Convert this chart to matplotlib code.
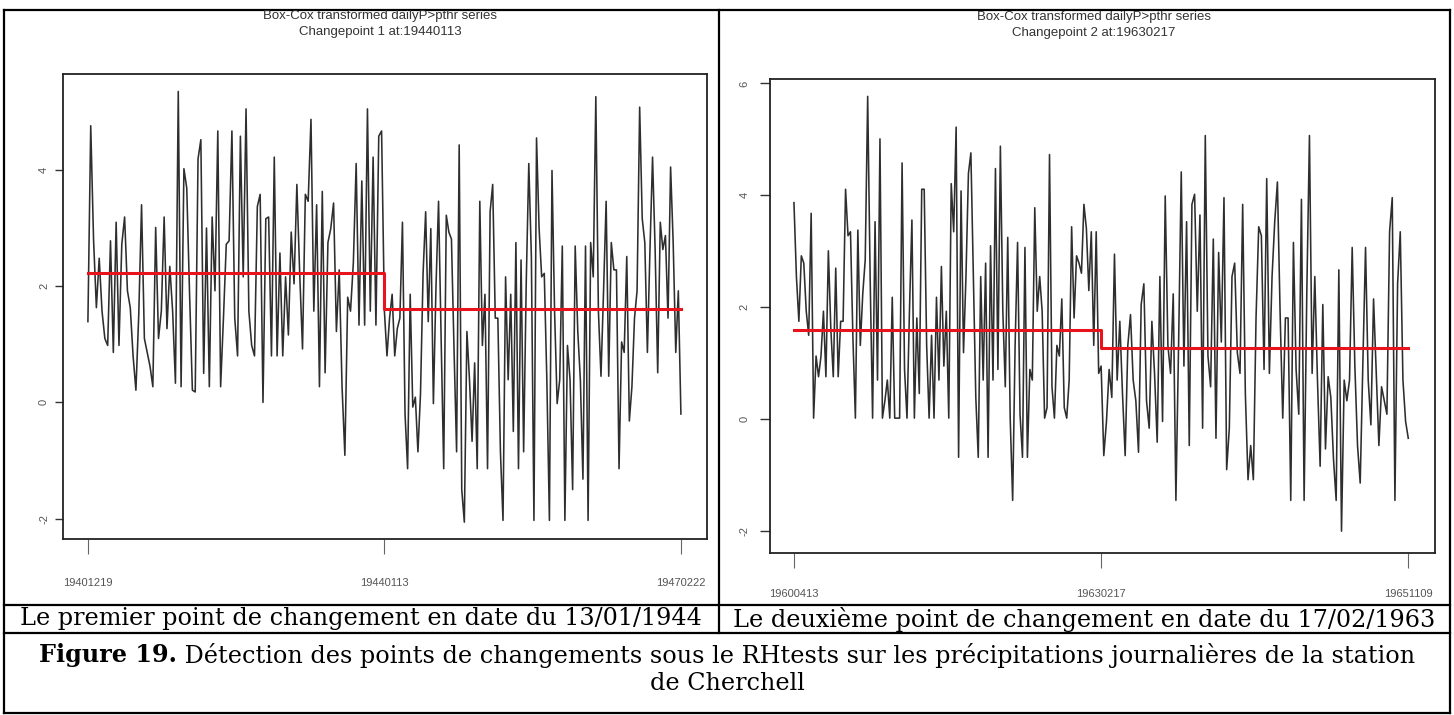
import numpy as np
import matplotlib.pyplot as plt
from matplotlib.lines import Line2D

plt.rcParams['font.family'] = ['Liberation Sans', 'DejaVu Sans']
plt.rcParams['axes.unicode_minus'] = False

# Box-Cox transformed daily precipitation
# left panel (changepoint 1)
left_before = [1.39, 4.76, 2.80, 1.63, 2.48, 1.57, 1.10, 0.98, 2.78, 0.86, 3.10, 0.98, 2.72, 3.19,
               1.92, 1.63, 0.80, 0.21, 1.50, 3.40, 1.10, 0.86, 0.62, 0.27, 3.01, 1.10, 1.57, 3.19,
               1.27, 2.34, 1.57, 0.33, 5.35, 0.27, 4.02, 3.69, 1.87, 0.21, 0.18, 4.19, 4.52, 0.50,
               3.00, 0.27, 3.19, 1.92, 4.67, 0.27, 1.45, 2.72, 2.78, 4.67, 1.45, 0.80, 4.58, 2.16,
               5.05, 1.57, 0.98, 0.80, 3.37, 3.58, 0.00, 3.16, 3.19, 0.80, 4.22, 0.80, 2.57, 0.80,
               2.16, 1.16, 2.93, 2.04, 3.75, 2.22, 0.92, 3.58, 3.46, 4.87, 1.57, 3.40, 0.27, 3.63,
               0.51, 2.75, 2.99, 3.43, 1.22, 2.28, 0.27, -0.91, 1.81, 1.57, 2.40, 4.11, 1.33, 3.81,
               1.33, 5.05, 1.57, 4.22, 1.33, 4.58, 4.67, 1.57]
left_after = [0.80, 1.45, 1.86, 0.80, 1.27, 1.45, 3.10, -0.20, -1.14, 1.86, -0.08, 0.09, -0.85,
              0.15, 2.22, 3.28, 1.39, 2.99, -0.02, 1.98, 3.46, 1.10, -1.14, 3.22, 2.93, 2.81, 0.92,
              -0.85, 4.43, -1.50, -2.06, 1.22, 0.39, -0.67, 0.68, -1.14, 3.46, 0.98, 1.86, -1.14,
              3.28, 3.75, 1.45, 1.45, -0.85, -2.03, 2.16, 0.39, 1.86, -0.50, 2.75, -1.14, 2.45,
              -0.85, 2.04, 4.11, 2.51, -2.03, 4.55, 2.99, 2.16, 2.22, 0.39, -2.03, 3.99, 1.57,
              -0.02, 0.39, 2.69, -2.03, 0.98, 0.39, -1.50, 2.69, 1.22, 0.39, -1.32, 2.69, -2.03,
              2.75, 2.16, 5.26, 1.57, 0.45, 1.92, 3.46, 0.45, 2.75, 2.28, 2.28, -1.14, 1.04, 0.86,
              2.51, -0.32, 0.27, 1.45, 1.92, 5.08, 3.16, 2.75, 0.86, 2.63, 4.22, 2.63, 0.51, 3.10,
              2.63, 2.87, 1.45, 4.05, 2.75, 0.86, 1.92, -0.20]
left_means = [2.22, 1.61]
left_dates = ['19401219', '19440113', '19470222']

# right panel (changepoint 2)
right_before = [3.87, 2.55, 1.75, 2.92, 2.79, 1.93, 1.50, 3.68, 0.02, 1.13, 0.76, 1.13, 1.93, 0.76,
                3.01, 1.62, 0.76, 2.70, 0.76, 1.75, 1.75, 4.11, 3.28, 3.35, 1.44, 0.02, 3.38, 1.32,
                2.24, 2.85, 5.77, 2.55, 0.02, 3.53, 0.70, 5.01, 0.02, 0.33, 0.70, 0.02, 2.18, 0.02,
                0.02, 0.02, 4.58, 0.89, 0.02, 1.93, 3.56, 0.02, 1.81, 0.46, 4.11, 4.11, 1.32, 0.02,
                1.50, 0.02, 2.18, 0.70, 2.73, 0.95, 1.93, 0.02, 4.21, 3.35, 5.22, -0.68, 4.08, 1.19,
                2.55, 4.39, 4.76, 2.55, 0.39, -0.68, 2.55, 0.70, 2.79, -0.68, 3.10, 0.70, 4.48,
                0.89, 4.88, 1.93, 0.58, 3.25, 0.02, -1.45, 1.32, 3.16, 0.09, -0.68, 3.07, -0.68,
                0.89, 0.70, 3.78, 1.93, 2.55, 1.93, 0.02, 0.21, 4.73, 0.58, 0.02, 1.32, 1.13, 2.15,
                0.21, 0.02, 0.70, 3.44, 1.81, 2.92, 2.79, 2.61, 3.84, 3.41, 2.30, 3.35, 1.32, 3.35,
                0.82, 0.95]
right_after = [-0.65, -0.04, 0.89, 0.39, 2.95, 0.70, 1.75, 0.46, -0.65, 1.32, 1.87, 0.70, 0.33,
               -0.59, 2.05, 2.42, 0.33, -0.16, 1.75, 0.82, -0.41, 2.55, -0.04, 3.99, 1.32, 0.82,
               2.24, -1.45, 1.32, 4.42, 0.95, 3.53, -0.47, 3.84, 4.02, 1.93, 3.65, -0.16, 5.07,
               1.13, 0.58, 3.22, -0.34, 2.98, 1.38, 3.96, -0.90, -0.16, 2.55, 2.79, 1.19, 0.82,
               3.84, 0.46, -1.08, -0.47, -1.08, 1.81, 3.44, 3.28, 0.89, 4.30, 0.82, 2.55, 3.53,
               4.24, 1.93, 0.02, 1.81, 1.81, -1.45, 3.16, 0.89, 0.09, 3.93, -1.45, 2.24, 5.07,
               0.82, 2.55, 0.70, -0.84, 2.05, -0.53, 0.76, 0.39, -0.71, -1.45, 2.67, -2.00, 0.70,
               0.33, 0.70, 3.07, 0.95, -0.47, -1.14, 1.01, 3.07, 0.70, -0.10, 2.15, 0.82, -0.47,
               0.58, 0.33, 0.09, 3.35, 3.96, -1.45, 2.42, 3.35, 0.70, -0.04, -0.34]
right_means = [1.59, 1.27]
right_dates = ['19600413', '19630217', '19651109']

W, H = 1454, 715
fig = plt.figure(figsize=(W / 100, H / 100), dpi=100)


def rect(x0, y0, x1, y1):
    # pixel box (top-left origin) -> figure fraction
    return [x0 / W, 1 - y1 / H, (x1 - x0) / W, (y1 - y0) / H]


def panel(box, before, after, means, xlim, ylim, yticks, dates, ylen, ypad, xpad):
    ax = fig.add_axes(rect(*box))
    x = np.concatenate([np.linspace(0, 1, len(before)),
                        np.linspace(1, 2, len(after) + 1)[1:]])
    y = np.concatenate([before, after])
    ax.plot(x, y, color='#2e2e2e', lw=1.15)
    ax.plot([0, 1, 1, 2], [means[0], means[0], means[1], means[1]], color='#e8141c', lw=2.2)
    ax.set_xlim(*xlim)
    ax.set_ylim(*ylim)
    ax.set_xticks([0, 1, 2], dates)
    ax.set_yticks(yticks, [str(t) for t in yticks])
    for lab in ax.get_yticklabels():
        lab.set_rotation(90)
        lab.set_va('center')
    ax.tick_params(axis='x', length=11, width=0.8, color='#666666', pad=xpad,
                   labelsize=8, labelcolor='#555555')
    ax.tick_params(axis='y', length=ylen, width=1.0, color='#333333', pad=ypad,
                   labelsize=8, labelcolor='#555555')
    for s in ax.spines.values():
        s.set_color('#222222')
        s.set_linewidth(1.3)
    return ax


panel((63, 74, 707, 539), left_before, left_after, left_means, (-0.084, 2.088),
      (-2.35, 5.65), [-2, 0, 2, 4], left_dates, 6, 4, 17)
panel((770, 79, 1435, 553), right_before, right_after, right_means, (-0.078, 2.087),
      (-2.39, 6.08), [-2, 0, 2, 4, 6], right_dates, 7.5, 7, 15)

title_kw = dict(ha='center', va='center', fontsize=9.5, color='#333333')
fig.text(380 / W, 1 - 16 / H, 'Box-Cox transformed dailyP>pthr series', **title_kw)
fig.text(380 / W, 1 - 32 / H, 'Changepoint 1 at:19440113', **title_kw)
fig.text(1094 / W, 1 - 17 / H, 'Box-Cox transformed dailyP>pthr series', **title_kw)
fig.text(1094 / W, 1 - 33 / H, 'Changepoint 2 at:19630217', **title_kw)


# table borders
def hline(y, x0, x1):
    fig.add_artist(Line2D([x0 / W, x1 / W], [1 - y / H, 1 - y / H], color='black', lw=1.6))


def vline(x, y0, y1):
    fig.add_artist(Line2D([x / W, x / W], [1 - y0 / H, 1 - y1 / H], color='black', lw=1.6))


hline(10, 4, 1450)
hline(605, 4, 1450)
hline(633, 4, 1450)
hline(713, 4, 1450)
vline(4, 10, 713)
vline(1450, 10, 713)
vline(719, 10, 633)

serif = ['DejaVu Serif', 'Liberation Serif']
fs = 17.2
cap_kw = dict(ha='center', va='center', fontsize=fs, family=serif, color='black')
fig.text(361 / W, 1 - 619 / H, 'Le premier point de changement en date du 13/01/1944', **cap_kw)
fig.text(1084 / W, 1 - 619 / H, 'Le deuxième point de changement en date du 17/02/1963', **cap_kw)

# caption first line: bold lead-in followed by regular text, centred as a whole
r = fig.canvas.get_renderer()
bold = fig.text(0, 1 - 655 / H, 'Figure 19.', ha='left', va='center', fontsize=fs,
                family=serif, weight='bold')
rest = fig.text(0, 1 - 655 / H,
                ' Détection des points de changements sous le RHtests sur les précipitations '
                'journalières de la station', ha='left', va='center', fontsize=fs, family=serif)
bw = bold.get_window_extent(r).width
rw = rest.get_window_extent(r).width
x0 = 727 - (bw + rw) / 2
bold.set_x(x0 / W)
rest.set_x((x0 + bw) / W)
fig.text(727 / W, 1 - 683 / H, 'de Cherchell', ha='center', va='center', fontsize=fs,
         family=serif)

fig.savefig('out.png', dpi=100)
